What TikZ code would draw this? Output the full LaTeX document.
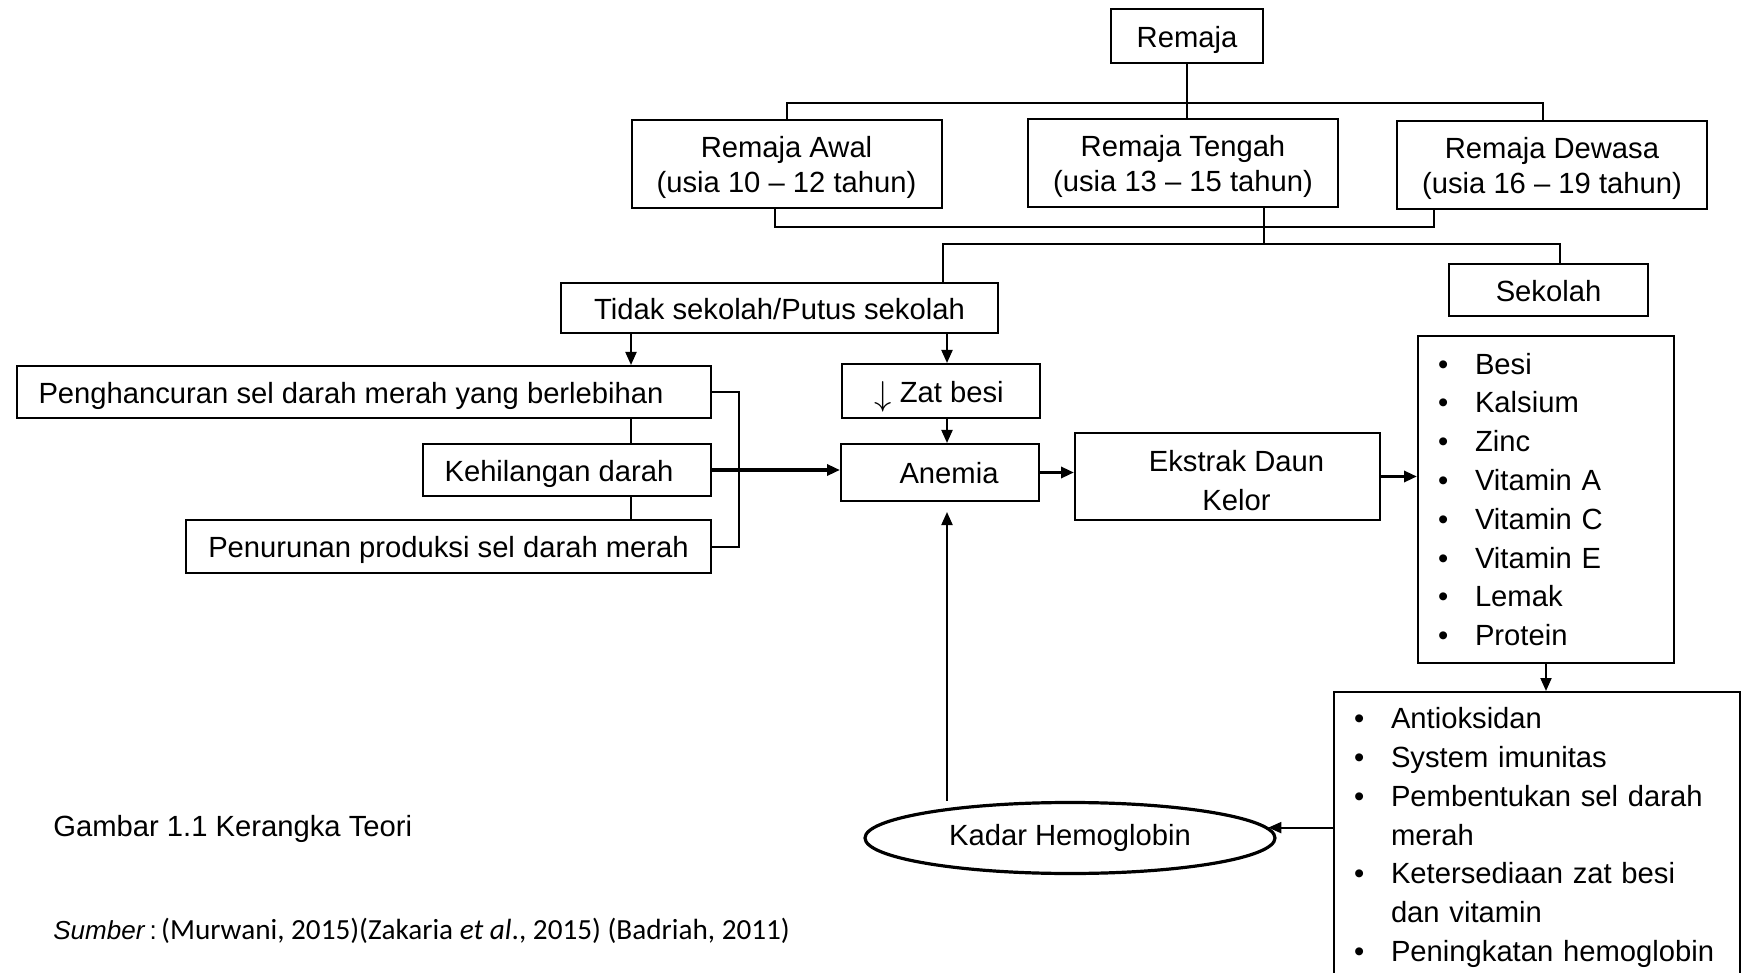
\documentclass[tikz,border=0pt]{standalone}
\usepackage{fontspec}
\setmainfont{Liberation Sans}
\newfontfamily\calibri{Carlito}
\usetikzlibrary{shapes.geometric, arrows.meta, positioning, calc}
\newcommand{\bul}[1]{\makebox[18.5pt][l]{\textbullet}#1}
\newcommand{\bulx}[1]{\hspace*{18.5pt}#1}

\begin{document}
\begin{tikzpicture}[
  x=0.5pt, y=-0.5pt,
  font=\fontsize{14.6}{17.2}\selectfont,
  box/.style={rectangle, draw, line width=1pt, inner sep=2pt, align=center},
  onebox/.style={box, text height=14.5pt, text depth=3.3pt},
  agebox/.style={box, minimum width=155pt, minimum height=44pt},
  listbox/.style={rectangle, draw, line width=1pt, inner xsep=10pt,
              inner ysep=5pt, align=left, font=\fontsize{14.6}{19.4}\selectfont},
  arr/.style={-{Triangle[length=6.5pt,width=5.5pt]}, line width=1pt},
  barr/.style={arr, line width=1.6pt},
  line/.style={line width=1pt}
]
\useasboundingbox (0,0) rectangle (1742,973);

% Remaja and age groups
\node[onebox, minimum width=76pt, minimum height=27pt] (remaja) at (1187,36) {Remaja};
\node[agebox] (awal)   at (786.5,164) {\rule{0pt}{14pt}Remaja Awal\\(usia 10 \textendash\ 12 tahun)};
\node[agebox] (tengah) at (1183,163)  {\rule{0pt}{14pt}Remaja Tengah\\(usia 13 \textendash\ 15 tahun)};
\node[agebox] (dewasa) at (1552,165)  {\rule{0pt}{14pt}Remaja Dewasa\\(usia 16 \textendash\ 19 tahun)};

% School status
\node[onebox, minimum width=218.5pt, minimum height=25pt] (tidak) at (779.5,308) {Tidak sekolah/Putus sekolah};
\node[onebox, minimum width=99.5pt, minimum height=26pt] (sekolah) at (1548.5,290) {Sekolah};

% Causes
\node[onebox, minimum width=347pt, minimum height=26pt] (hancur) at (364,392)
    {Penghancuran sel darah merah yang berlebihan\hspace*{13pt}};
\node[onebox, minimum width=144pt, minimum height=26pt] (hilang) at (567,470) {Kehilangan darah\hspace*{8pt}};
\node[onebox, minimum width=262.5pt, minimum height=26.5pt] (turun) at (448.5,546.5) {Penurunan produksi sel darah merah};
\node[onebox, minimum width=99pt, minimum height=27pt] (zat) at (941,391)
    {\raisebox{-1.5pt}{\fontsize{18}{18}\selectfont$\downarrow$} Zat besi\hspace*{2pt}};
\node[onebox, minimum width=99pt, minimum height=28.5pt] (anemia) at (940,472.5) {\hspace*{9pt}Anemia};

% Moringa extract
\node[box, minimum width=152.5pt, minimum height=43.5pt,
      font=\fontsize{14.6}{19.4}\selectfont] (ekstrak) at (1227.5,476.5)
    {\rule{0pt}{15pt}\hspace*{9pt}Ekstrak Daun\\\hspace*{9pt}Kelor};
\node[listbox, text width=108pt, minimum height=163.5pt] (nutrisi) at (1546,499.5)
    {\bul{Besi}\\ \bul{Kalsium}\\ \bul{Zinc}\\ \bul{Vitamin A}\\
     \bul{Vitamin C}\\ \bul{Vitamin E}\\ \bul{Lemak}\\ \bul{Protein}};
\node[listbox, text width=183pt, anchor=north west, inner ysep=7.8pt, text depth=140pt] (manfaat) at (1333,691)
    {\bul{Antioksidan}\\ \bul{System imunitas}\\ \bul{Pembentukan sel darah}\\ \bulx{merah}\\
     \bul{Ketersediaan zat besi}\\ \bulx{dan vitamin}\\ \bul{Peningkatan hemoglobin}};

% Outcome
\node[ellipse, draw, line width=1.6pt, minimum width=205pt, minimum height=35.5pt,
      inner sep=0pt] (kadar) at (1070,838) {Kadar Hemoglobin};

% Caption
\node[anchor=west, inner sep=0pt] (judul) at (53,829) {Gambar 1.1 Kerangka Teori};
\node[anchor=west, inner sep=0pt, font=\fontsize{13}{17}\selectfont] (sumber) at (53,931)
    {\textit{Sumber}\,:\,{\calibri\fontsize{14.6}{17}\selectfont(Murwani, 2015)(Zakaria \textit{et al}., 2015) (Badriah, 2011)}};

% Tree lines
\coordinate (t1) at (1187,103);
\coordinate (t2) at (1264,227);
\draw[line] (remaja.south) -- (remaja.south |- tengah.north);
\draw[line] (awal.north) |- (t1) -| ($(dewasa.north)+(-9,0)$);
\draw[line] ($(awal.south)+(-12,0)$) |- (t2) -| ($(dewasa.south)+(-118,0)$);
\draw[line] ($(tengah.south)+(81,0)$) -- (t2) -- ++(0,17) coordinate (t3);
\draw[line] ($(tidak.north)+(163.5,0)$) |- (t3) -| ($(sekolah.north)+(11.5,0)$);

% Arrows to causes
\coordinate (c1) at ($(tidak.south)+(-148.5,0)$);
\coordinate (c2) at ($(anemia.south)+(7,0)$);
\draw[arr] (c1) -- (c1 |- hancur.north);
\draw[arr] (c2 |- tidak.south) -- (c2 |- zat.north);
\draw[arr] (c2 |- zat.south) -- (c2 |- anemia.north);
\draw[line] (c1 |- hancur.south) -- (c1 |- hilang.north);
\draw[line] (c1 |- hilang.south) -- (c1 |- turun.north);
\draw[line] (hancur.east) -- ++(27,0) |- (turun.east);
\draw[barr] (hilang.east) -- (hilang.east -| anemia.west);

% Main chain
\draw[barr] (anemia.east) -- (anemia.east -| ekstrak.west);
\draw[barr] (ekstrak.east) -- (ekstrak.east -| nutrisi.west);
\draw[arr] (nutrisi.south) -- (nutrisi.south |- manfaat.north);
\draw[arr] (kadar.3 -| manfaat.west) -- (kadar.3);
\draw[arr, shorten >=5pt] (c2 |- kadar.north) -- (c2);
\end{tikzpicture}
\end{document}
